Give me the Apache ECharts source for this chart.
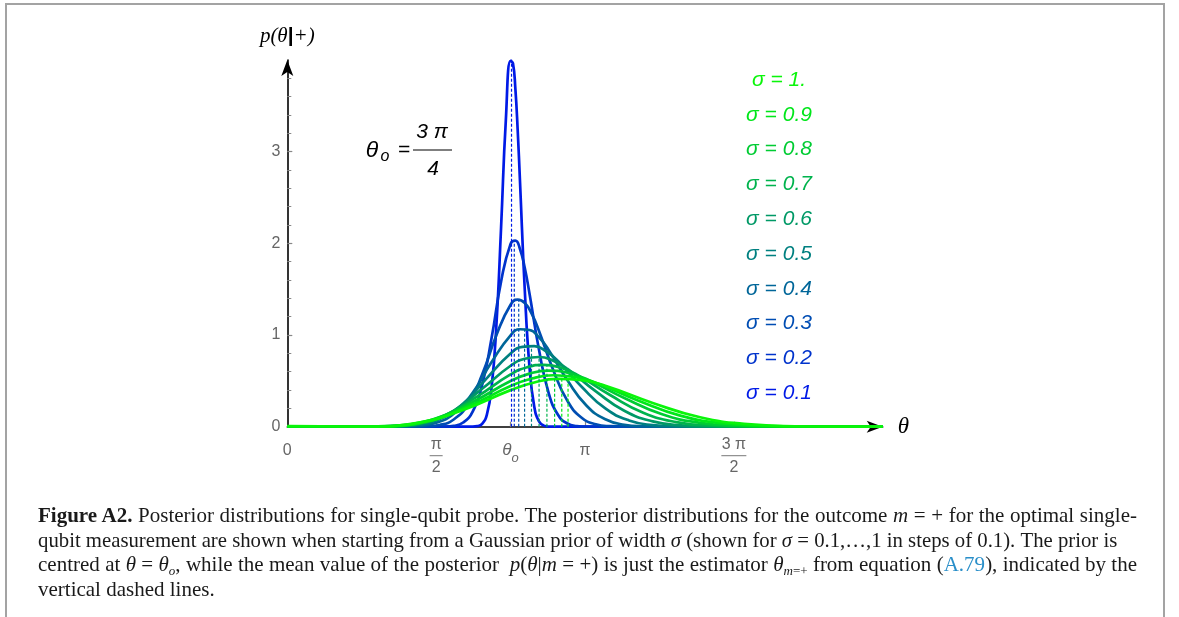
<!DOCTYPE html>
<html>
<head>
<meta charset="utf-8">
<script src="https://cdn.jsdelivr.net/npm/echarts@6/dist/echarts.min.js"></script>
<style>
html, body { margin: 0; padding: 0; background: #fff; }
#wrap { position: relative; width: 1179px; height: 617px; overflow: hidden; }
#frame { position: absolute; left: 4.5px; top: 2.5px; width: 1160px; height: 700px; box-sizing: border-box; border: 2px solid #a3a3a3; }
#chart { position: absolute; left: 0; top: 0; width: 1179px; height: 617px; }
#caption { position: absolute; left: 38px; top: 503px; font-family: 'Liberation Serif', 'Times New Roman', serif; font-size: 21px; line-height: 24.5px; color: #1a1a1a; }
#caption div { height: 24.5px; text-align: justify; text-align-last: justify; white-space: nowrap; }
#caption div.last { text-align-last: left; }
#caption .ref { color: #2a8fc9; }
#caption .sb { position: relative; top: 4px; font-size: 13px; line-height: 0; }
</style>
</head>
<body>
<div id="wrap">
  <div id="frame"></div>
  <div id="chart"></div>
  <div id="caption">
    <div style="width:1099px"><b>Figure A2.</b> Posterior distributions for single-qubit probe. The posterior distributions for the outcome <i>m</i> = + for the optimal single-</div>
    <div style="width:1079px">qubit measurement are shown when starting from a Gaussian prior of width <i>σ</i> (shown for <i>σ</i> = 0.1,…,1 in steps of 0.1). The prior is</div>
    <div style="width:1099px">centred at <i>θ</i> = <i>θ<span class="sb">o</span></i>, while the mean value of the posterior &nbsp;<i>p</i>(<i>θ</i>|<i>m</i> = +) is just the estimator <i>θ</i><span class="sb"><i>m</i>=+</span> from equation (<span class="ref">A.79</span>), indicated by the</div>
    <div class="last">vertical dashed lines.</div>
  </div>
</div>
<script>
// posterior p(theta|+) for each prior width, [theta, p]
const post01 = [[0, 0], [1.9562, 0.0008], [2.0062, 0.0057], [2.0562, 0.0312], [2.1062, 0.1319], [2.1562, 0.4326], [2.2062, 1.1017], [2.2562, 2.1782], [2.3062, 3.3447], [2.3562, 3.9894], [2.3812, 3.9634], [2.4062, 3.6967], [2.4312, 3.2370], [2.4562, 2.6613], [2.5062, 1.4888], [2.5562, 0.6472], [2.6062, 0.2187], [2.6562, 0.0574], [2.7062, 0.0117], [2.7562, 0.0019], [6.2832, 0]];
const post02 = [[0, 0], [1.5562, 0.0002], [1.6562, 0.0016], [1.7562, 0.0096], [1.8562, 0.0456], [1.9562, 0.1649], [2.0562, 0.4562], [2.1562, 0.9695], [2.2562, 1.5847], [2.3562, 1.9947], [2.4062, 2.0300], [2.4562, 1.9361], [2.5062, 1.7307], [2.5562, 1.4503], [2.6562, 0.8390], [2.7562, 0.3751], [2.8562, 0.1297], [2.9562, 0.0347], [3.0562, 0.0072], [3.1562, 0.0012], [6.2832, 0]];
const post03 = [[0, 0], [1.1562, 0], [1.3062, 0.0004], [1.4562, 0.0032], [1.6062, 0.0186], [1.7562, 0.0784], [1.9062, 0.2439], [2.0562, 0.5682], [2.2062, 0.9982], [2.3562, 1.3298], [2.4312, 1.3855], [2.5062, 1.3489], [2.5812, 1.2278], [2.6562, 1.0449], [2.8062, 0.6195], [2.9562, 0.2816], [3.1062, 0.0983], [3.2562, 0.0263], [3.4062, 0.0054], [3.5562, 0.0009], [6.2832, 0]];
const post04 = [[0, 0], [0.7562, 0], [0.9562, 0], [1.1562, 0.0008], [1.3562, 0.0069], [1.5562, 0.0382], [1.7562, 0.1410], [1.9562, 0.3694], [2.1562, 0.7053], [2.3562, 0.9974], [2.4562, 1.0632], [2.5562, 1.0551], [2.6562, 0.9753], [2.7562, 0.8405], [2.9562, 0.5066], [3.1562, 0.2318], [3.3562, 0.0807], [3.5562, 0.0214], [3.7562, 0.0043], [3.9562, 0.0007], [6.2832, 0]];
const post05 = [[0, 0], [0.3562, 0], [0.6062, 0], [0.8562, 0], [1.1062, 0.0018], [1.3562, 0.0171], [1.6062, 0.0825], [1.8562, 0.2519], [2.1062, 0.5299], [2.3562, 0.7979], [2.4812, 0.8698], [2.6062, 0.8783], [2.7312, 0.8229], [2.8562, 0.7160], [3.1062, 0.4356], [3.3562, 0.1988], [3.6062, 0.0683], [3.8562, 0.0177], [4.1062, 0.0035], [4.3562, 0.0005], [6.2832, 0]];
const post06 = [[0, 0.0001], [0.2562, 0.0002], [0.5562, 0.0002], [0.8562, 0.0001], [1.1562, 0.0061], [1.4562, 0.0468], [1.7562, 0.1756], [2.0562, 0.4134], [2.3562, 0.6649], [2.5062, 0.7408], [2.6562, 0.7602], [2.8062, 0.7202], [2.9562, 0.6310], [3.2562, 0.3850], [3.5562, 0.1738], [3.8562, 0.0584], [4.1562, 0.0146], [4.4562, 0.0027], [4.7562, 0.0004], [6.2832, 0]];
const post07 = [[0, 0.0006], [0.2562, 0.0009], [0.6062, 0.0004], [0.9562, 0.0011], [1.3062, 0.0245], [1.6562, 0.1230], [2.0062, 0.3305], [2.3562, 0.5699], [2.5312, 0.6486], [2.7062, 0.6754], [2.8812, 0.6458], [3.0562, 0.5684], [3.4062, 0.3455], [3.7562, 0.1531], [4.1062, 0.0497], [4.4562, 0.0118], [4.8062, 0.0020], [5.1562, 0.0003], [6.2832, 0]];
const post08 = [[0, 0.0019], [0.3562, 0.0020], [0.7562, 0], [1.1562, 0.0110], [1.5562, 0.0855], [1.9562, 0.2687], [2.3562, 0.4987], [2.5562, 0.5794], [2.7562, 0.6115], [2.9562, 0.5890], [3.1562, 0.5194], [3.5562, 0.3128], [3.9562, 0.1350], [4.3562, 0.0418], [4.7562, 0.0093], [5.1562, 0.0015], [5.5562, 0.0002], [6.2832, 0]];
const post09 = [[0, 0.0042], [0.1062, 0.0043], [0.5562, 0.0016], [1.0062, 0.0035], [1.4562, 0.0583], [1.9062, 0.2210], [2.3562, 0.4433], [2.5812, 0.5255], [2.8062, 0.5613], [3.0312, 0.5437], [3.2562, 0.4795], [3.7062, 0.2843], [4.1562, 0.1184], [4.6062, 0.0346], [5.0562, 0.0070], [5.5062, 0.0010], [5.9562, 0.0001], [6.2832, 0]];
const post10 = [[0, 0.0073], [0.3562, 0.0049], [0.8562, 0.0003], [1.3562, 0.0384], [1.8562, 0.1833], [2.3562, 0.3989], [2.6062, 0.4823], [2.8562, 0.5209], [3.1062, 0.5064], [3.3562, 0.4456], [3.8562, 0.2587], [4.3562, 0.1031], [4.8562, 0.0280], [5.3562, 0.0051], [5.8562, 0.0006], [6.2832, 0]];

// posterior means (dashed lines) and the curve height there
const meanTheta = [2.3662, 2.3954, 2.4422, 2.5039, 2.5768, 2.6569, 2.7397, 2.8209, 2.8965, 2.9627];
const meanHeight = [4.009, 2.033, 1.386, 1.069, 0.882, 0.760, 0.674, 0.610, 0.561, 0.521];

const sigmaLabels = ['σ = 0.1', 'σ = 0.2', 'σ = 0.3', 'σ = 0.4', 'σ = 0.5', 'σ = 0.6', 'σ = 0.7', 'σ = 0.8', 'σ = 0.9', 'σ = 1.'];

const xTickValues = [0, 1.5708, 2.3562, 3.1416, 4.7124];
const xTickLabels = ['{s|0}', '{n|π}\n{bar| }\n{d|2}', '{t|θ}{o|o}', '{s|π}', '{n|3 π}\n{bar2| }\n{d|2}'];
const yTickValues = [0, 1, 2, 3];
const xMax = 6.2832;

const colors = ['rgb(0,26,230)', 'rgb(0,51,204)', 'rgb(0,77,179)', 'rgb(0,102,153)', 'rgb(0,128,128)',
                'rgb(0,153,102)', 'rgb(0,179,77)', 'rgb(0,204,51)', 'rgb(0,230,26)', 'rgb(10,245,10)'];
const curves = [post01, post02, post03, post04, post05, post06, post07, post08, post09, post10];

const tickGray = '#666';
const sansIt = 'italic 21px "Liberation Sans", Arial, sans-serif';

// keep each caption line on one row
document.querySelectorAll('#caption div').forEach(function (el) {
    var fs = 21;
    while (el.scrollWidth > el.clientWidth + 1 && fs > 16) {
        fs -= 0.25;
        el.style.fontSize = fs + 'px';
    }
});

var chart = echarts.init(document.getElementById('chart'));

var series = [];
curves.forEach(function (d, i) {
    series.push({
        type: 'line',
        data: d,
        smooth: true,
        showSymbol: false,
        silent: true,
        lineStyle: { color: colors[i], width: 2.7 },
        itemStyle: { color: colors[i] },
        z: 2
    });
});
meanTheta.forEach(function (m, i) {
    series.push({
        type: 'line',
        data: [[m, 0], [m, meanHeight[i]]],
        showSymbol: false,
        silent: true,
        lineStyle: { color: colors[i], width: 1.2, type: [3, 2] },
        z: 3
    });
});

function txt(x, y, s, font) {
    return { type: 'text', x: x, y: y, silent: true,
        style: { text: s, fill: '#000', font: font, align: 'center', verticalAlign: 'middle', textAlign: 'center', textVerticalAlign: 'middle' } };
}

// sigma labels, top is sigma = 1
var graphics = sigmaLabels.map(function (s, i) {
    var g = txt(779, 80 + 34.8 * (sigmaLabels.length - 1 - i), s, sansIt);
    g.style.fill = colors[i];
    return g;
});
// theta_o = 3pi/4
graphics.push(
    txt(372, 151, 'θ', 'italic 23px "Liberation Sans", Arial, sans-serif'),
    txt(385, 157, 'o', 'italic 16px "Liberation Sans", Arial, sans-serif'),
    txt(404, 150, '=', sansIt),
    txt(432, 132, '3 π', sansIt),
    { type: 'line', silent: true, shape: { x1: 413, y1: 150, x2: 452, y2: 150 }, style: { stroke: '#000', lineWidth: 1.2 } },
    txt(433, 169, '4', sansIt)
);

var option = {
    animation: false,
    backgroundColor: 'transparent',
    grid: { left: 287.3, right: 296.3, top: 60, bottom: 190.3, containLabel: false, outerBoundsMode: 'none' },
    xAxis: {
        type: 'value',
        min: 0,
        max: xMax,
        splitLine: { show: false },
        axisLine: { show: true, onZero: false, symbol: ['none', 'arrow'], symbolSize: [9, 16], symbolOffset: [0, 0], lineStyle: { color: '#000', width: 1.6 } },
        axisTick: { show: true, inside: true, length: 5, customValues: xTickValues.slice(1), lineStyle: { color: '#888', width: 1.2 } },
        axisLabel: {
            customValues: xTickValues,
            margin: 10,
            formatter: function (v) {
                var i = xTickValues.findIndex(function (t) { return Math.abs(t - v) < 1e-6; });
                return i >= 0 ? xTickLabels[i] : '';
            },
            rich: {
                s: { fontSize: 16, lineHeight: 28, color: tickGray, fontFamily: 'Liberation Sans', align: 'center' },
                t: { fontSize: 17, lineHeight: 28, color: tickGray, fontFamily: 'Liberation Sans', fontStyle: 'italic' },
                o: { fontSize: 13, lineHeight: 20, color: tickGray, fontFamily: 'Liberation Sans', fontStyle: 'italic', verticalAlign: 'bottom' },
                n: { fontSize: 16, lineHeight: 15, color: tickGray, fontFamily: 'Liberation Sans', align: 'center' },
                d: { fontSize: 16, lineHeight: 16, color: tickGray, fontFamily: 'Liberation Sans', align: 'center' },
                bar: { fontSize: 1, width: 13, height: 1, lineHeight: 8, backgroundColor: '#777', align: 'center' },
                bar2: { fontSize: 1, width: 25, height: 1, lineHeight: 8, backgroundColor: '#777', align: 'center' }
            }
        },
        name: 'θ',
        nameLocation: 'end',
        nameGap: 15,
        nameTextStyle: { fontFamily: 'Liberation Serif', fontStyle: 'italic', fontSize: 23, color: '#000' }
    },
    yAxis: {
        type: 'value',
        min: 0,
        max: 4,
        interval: 1,
        splitLine: { show: false },
        axisLine: { show: true, onZero: false, symbol: ['none', 'arrow'], symbolSize: [9, 16], symbolOffset: [0, 0], lineStyle: { color: '#000', width: 1.6 } },
        axisTick: { show: true, inside: true, length: 5, customValues: yTickValues, lineStyle: { color: '#888', width: 1.2 } },
        minorTick: { show: true, splitNumber: 5, length: 4, lineStyle: { color: '#888', width: 1 } },
        axisLabel: {
            margin: 7,
            fontSize: 16,
            fontFamily: 'Liberation Sans',
            color: tickGray,
            formatter: function (v) { return v === 4 ? '' : String(v); }
        },
        name: '{a|p(θ}{b||}{a|+)}',
        nameLocation: 'end',
        nameGap: 13,
        nameTextStyle: {
            rich: {
                a: { fontFamily: 'Liberation Serif', fontStyle: 'italic', fontSize: 21, color: '#000' },
                b: { fontFamily: 'Liberation Sans', fontWeight: 'bold', fontSize: 21, color: '#000' }
            }
        }
    },
    graphic: graphics,
    series: series
};
chart.setOption(option);
</script>
</body>
</html>
